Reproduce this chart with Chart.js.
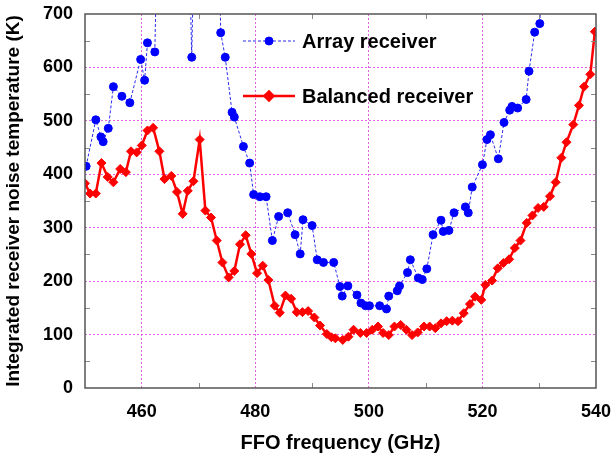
<!DOCTYPE html>
<html><head><meta charset="utf-8">
<script src="https://cdn.jsdelivr.net/npm/chart.js@4.4.1/dist/chart.umd.min.js"></script>
<style>html,body{margin:0;padding:0;background:#fff}#c{display:block}</style>
</head><body>
<canvas id="c" width="614" height="456"></canvas>
<script>
// ---- data ----
const arrayFreq = [450.2,451.9,452.8,453.2,454.1,455.0,456.5,457.9,459.8,460.5,461.0,462.3,463.0,468.0,468.8,469.5,473.4,473.9,474.7,475.9,476.3,477.9,479.0,479.7,480.8,481.9,483.0,484.1,485.7,487.0,487.9,488.4,490.0,490.9,492.0,493.8,494.9,495.3,496.3,497.9,498.6,499.4,500.1,501.9,503.1,503.5,505.0,505.4,506.8,507.3,508.7,509.4,510.2,511.3,512.7,513.1,514.1,515.0,517.0,517.5,518.2,520.0,520.8,521.4,522.8,523.8,524.8,525.2,526.2,527.7,528.2,529.2,530.1,531.0];
const arrayTemp = [415,502,470,461,486,564,546,534,615,576,646,629,1000,1000,619,1000,1000,665,619,516,507,452,421,362,358,358,276,321,328,287,251,315,304,240,235,235,190,172,191,174,159,154,154,154,148,172,182,191,216,240,206,203,223,287,314,293,295,328,339,328,376,418,465,474,429,497,520,527,524,540,593,666,682,900];
const balancedFreq = [450.0,450.9,451.9,452.9,454.0,455.0,456.2,457.2,458.1,459.1,460.0,461.0,462.0,463.1,464.0,465.2,466.2,467.2,468.1,469.1,470.2,471.2,472.2,473.2,474.2,475.3,476.3,477.3,478.3,479.3,480.3,481.3,482.3,483.4,484.3,485.3,486.3,487.3,488.3,489.3,490.4,491.4,492.6,493.4,494.1,495.4,496.4,497.3,498.5,499.6,500.6,501.6,502.5,503.5,504.5,505.6,506.6,507.6,508.6,509.7,510.7,511.7,512.7,513.7,514.7,515.7,516.7,517.8,518.7,519.8,520.5,521.7,522.7,523.7,524.7,525.7,526.7,527.8,528.8,529.8,530.8,531.9,532.9,533.9,534.8,536.0,537.0,537.9,539.0,539.8];
const balancedTemp = [383,364,364,421,395,385,410,404,443,441,454,482,487,443,391,397,367,326,369,387,465,332,319,276,235,207,219,269,286,251,215,229,202,154,141,173,167,142,142,144,132,117,101,95,93,90,96,109,103,103,109,115,103,99,115,118,109,99,104,115,115,112,121,125,126,125,140,157,171,165,193,201,224,234,241,262,276,309,323,337,339,359,385,431,460,493,529,564,587,667];
const seriesNames = ['Array receiver', 'Balanced receiver'];
const xTickLabels = [460, 480, 500, 520, 540];
const yTickLabels = [0, 100, 200, 300, 400, 500, 600, 700];
const xMinorTicks = [470, 490, 510, 530];
const yMinorTicks = [50, 150, 250, 350, 450, 550, 650];

const FONT = '"Liberation Sans", Arial, Helvetica, sans-serif';
const GRID = 'rgba(220,70,220,0.85)';

const toPts = (xs, ys) => xs.map((x, i) => ({x: x, y: ys[i]}));

const framePlugin = {
  id: 'frameAndMinor',
  afterDatasetsDraw(chart) {
    const ctx = chart.ctx, a = chart.chartArea;
    const xs = chart.scales.x, ys = chart.scales.y;
    ctx.save();
    ctx.strokeStyle = '#8a8a8a';
    ctx.lineWidth = 1;
    ctx.beginPath();
    yMinorTicks.forEach(v => {
      const p = Math.round(ys.getPixelForValue(v)) + 0.5;
      ctx.moveTo(a.left, p); ctx.lineTo(a.left + 5, p);
      ctx.moveTo(a.right, p); ctx.lineTo(a.right - 5, p);
    });
    xMinorTicks.forEach(v => {
      const p = Math.round(xs.getPixelForValue(v)) + 0.5;
      ctx.moveTo(p, a.bottom); ctx.lineTo(p, a.bottom - 5);
      ctx.moveTo(p, a.top); ctx.lineTo(p, a.top + 5);
    });
    ctx.stroke();
    ctx.strokeStyle = '#555';
    ctx.lineWidth = 1.5;
    ctx.strokeRect(a.left, a.top, a.right - a.left, a.bottom - a.top);
    ctx.restore();
  }
};

const legendPlugin = {
  id: 'insideLegend',
  afterDraw(chart) {
    const ctx = chart.ctx;
    const rows = [41, 96];
    chart.data.datasets.forEach((d, i) => {
      const y = rows[i];
      ctx.save();
      ctx.strokeStyle = d.borderColor;
      ctx.lineWidth = d.borderWidth;
      ctx.setLineDash(d.borderDash || []);
      ctx.beginPath(); ctx.moveTo(243, y); ctx.lineTo(295, y); ctx.stroke();
      ctx.setLineDash([]);
      ctx.fillStyle = d.pointBackgroundColor;
      ctx.strokeStyle = d.pointBorderColor;
      Chart.helpers.drawPoint(ctx, {pointStyle: d.pointStyle, radius: d.pointRadius, rotation: 0, borderWidth: 1}, 269, y);
      ctx.fillStyle = '#000';
      ctx.font = 'bold 20px ' + FONT;
      ctx.textBaseline = 'middle';
      ctx.textAlign = 'left';
      ctx.fillText(d.label, 302, y + 1);
      ctx.restore();
    });
  }
};

new Chart(document.getElementById('c'), {
  type: 'scatter',
  data: {
    datasets: [
      {
        label: seriesNames[0],
        data: toPts(arrayFreq, arrayTemp),
        showLine: true,
        borderColor: '#2a2af0',
        borderWidth: 1,
        borderDash: [3, 2],
        pointStyle: 'circle',
        pointRadius: 4,
        pointBackgroundColor: '#0000ff',
        pointBorderColor: '#0000ff',
        pointBorderWidth: 1,
        clip: 0
      },
      {
        label: seriesNames[1],
        data: toPts(balancedFreq, balancedTemp),
        showLine: true,
        borderColor: '#ff0000',
        borderWidth: 2.5,
        pointStyle: 'rectRot',
        pointRadius: 4.5,
        pointBackgroundColor: '#ff0000',
        pointBorderColor: '#ff0000',
        pointBorderWidth: 1,
        clip: 0
      }
    ]
  },
  options: {
    responsive: false,
    animation: false,
    devicePixelRatio: 1,
    layout: {padding: {left: 0, top: 14, right: 18, bottom: 0}},
    plugins: {legend: {display: false}, tooltip: {enabled: false}},
    scales: {
      x: {
        type: 'linear', min: 450, max: 540,
        afterBuildTicks: s => { s.ticks = xTickLabels.map(v => ({value: v})); },
        afterFit: s => { s.height = 68; s.paddingLeft = 0; s.paddingRight = 0; },
        grid: {
          drawTicks: false,
          lineWidth: 1,
          color: c => (c.tick && c.tick.value === 540) ? 'rgba(0,0,0,0)' : GRID
        },
        border: {display: false, dash: [2, 2]},
        ticks: {padding: 13, color: '#000', font: {family: FONT, size: 18, weight: 'bold'}},
        title: {display: true, text: 'FFO frequency (GHz)', color: '#000',
          font: {family: FONT, size: 20, weight: 'bold', lineHeight: 1.2}, padding: {top: 0, bottom: 1}}
      },
      y: {
        type: 'linear', min: 0, max: 700,
        afterBuildTicks: s => { s.ticks = yTickLabels.map(v => ({value: v})); },
        afterFit: s => { s.width = 85; s.paddingTop = 0; s.paddingBottom = 0; },
        grid: {
          drawTicks: false,
          lineWidth: 1,
          color: c => (c.tick && (c.tick.value === 0 || c.tick.value === 700)) ? 'rgba(0,0,0,0)' : GRID
        },
        border: {display: false, dash: [2, 2]},
        ticks: {padding: 12, color: '#000', font: {family: FONT, size: 18, weight: 'bold'}},
        title: {display: true, text: 'Integrated receiver noise temperature (K)', color: '#000',
          font: {family: FONT, size: 19, weight: 'bold', lineHeight: 1.2}, padding: {top: 2, bottom: 0}}
      }
    }
  },
  plugins: [framePlugin, legendPlugin]
});
</script>
</body></html>
